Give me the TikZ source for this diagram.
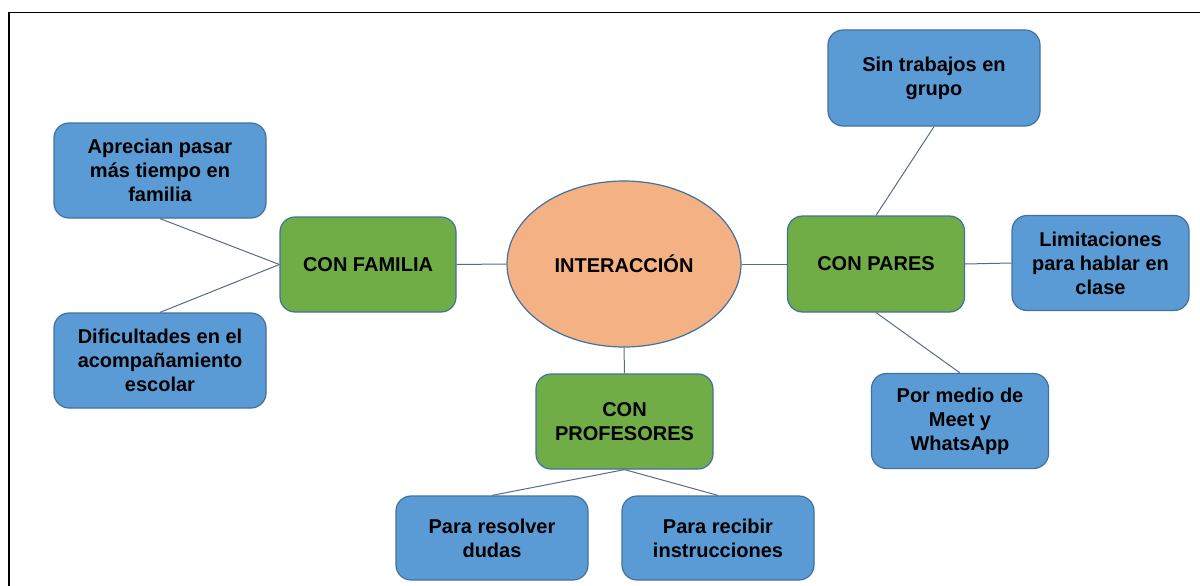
\documentclass[tikz,border=0pt]{standalone}
\usepackage{fontspec}
\setmainfont{Liberation Sans}
\usetikzlibrary{shapes.geometric}
\definecolor{boxblue}{HTML}{5B9BD5}
\definecolor{boxgreen}{HTML}{70AD47}
\definecolor{ellorange}{HTML}{F4B183}
\definecolor{edgeblue}{HTML}{41719C}
\definecolor{linkgray}{HTML}{5A6A88}
\tikzset{
  base/.style={draw=edgeblue, line width=1.2pt, rounded corners=15pt, align=center,
    inner sep=0pt, font=\fontsize{20}{24}\selectfont\bfseries, text=black},
  leaf/.style={base, fill=boxblue},
  branch/.style={base, fill=boxgreen},
  link/.style={draw=linkgray, line width=1pt}
}
\begin{document}
\begin{tikzpicture}[x=1pt,y=-1pt]
\useasboundingbox (0,0) rectangle (1200,586);
\begin{scope}
\clip (0,0) rectangle (1200,586);
\draw[line width=1.6pt] (9,600) -- (9,12.5) -- (1210,12.5);
\end{scope}
\node[draw=edgeblue, line width=1.2pt, fill=ellorange, ellipse, minimum width=234pt, minimum height=166pt, inner sep=0pt, font=\fontsize{20}{24}\selectfont\bfseries] (int) at (624,264) {INTERACCIÓN};
\node[branch, minimum width=176pt, minimum height=95pt] (fam) at (368,264.5) {CON FAMILIA};
\node[branch, minimum width=177pt, minimum height=96pt] (par) at (876,264) {CON PARES};
\node[branch, minimum width=177pt, minimum height=95pt] (pro) at (624.5,421.5) {CON\\PROFESORES};
\node[leaf, minimum width=212pt, minimum height=95pt] (apr) at (160,170.5) {Aprecian pasar\\más tiempo en\\familia};
\node[leaf, minimum width=212pt, minimum height=95pt] (dif) at (160,360.5) {Dificultades en el\\acompañamiento\\escolar};
\node[leaf, minimum width=212pt, minimum height=96pt] (sin) at (934,78) {Sin trabajos en\\grupo};
\node[leaf, minimum width=177pt, minimum height=95pt] (lim) at (1100.5,263) {Limitaciones\\para hablar en\\clase};
\node[leaf, minimum width=177pt, minimum height=95pt] (pm) at (960,421) {Por medio de\\Meet y\\WhatsApp};
\node[leaf, minimum width=192pt, minimum height=84pt] (res) at (492,538) {Para resolver\\dudas};
\node[leaf, minimum width=192pt, minimum height=84pt] (rec) at (718,538) {Para recibir\\instrucciones};
\draw[link] (apr.south) -- (fam.west);
\draw[link] (dif.north) -- (fam.west);
\draw[link] (fam.east) -- (int.west);
\draw[link] (int.east) -- (par.west);
\draw[link] (par.east) -- (lim.west);
\draw[link] (par.north) -- (sin.south);
\draw[link] (par.south) -- (pm.north);
\draw[link] (int.south) -- (pro.north);
\draw[link] (pro.south) -- (res.north);
\draw[link] (pro.south) -- (rec.north);
\end{tikzpicture}
\end{document}
